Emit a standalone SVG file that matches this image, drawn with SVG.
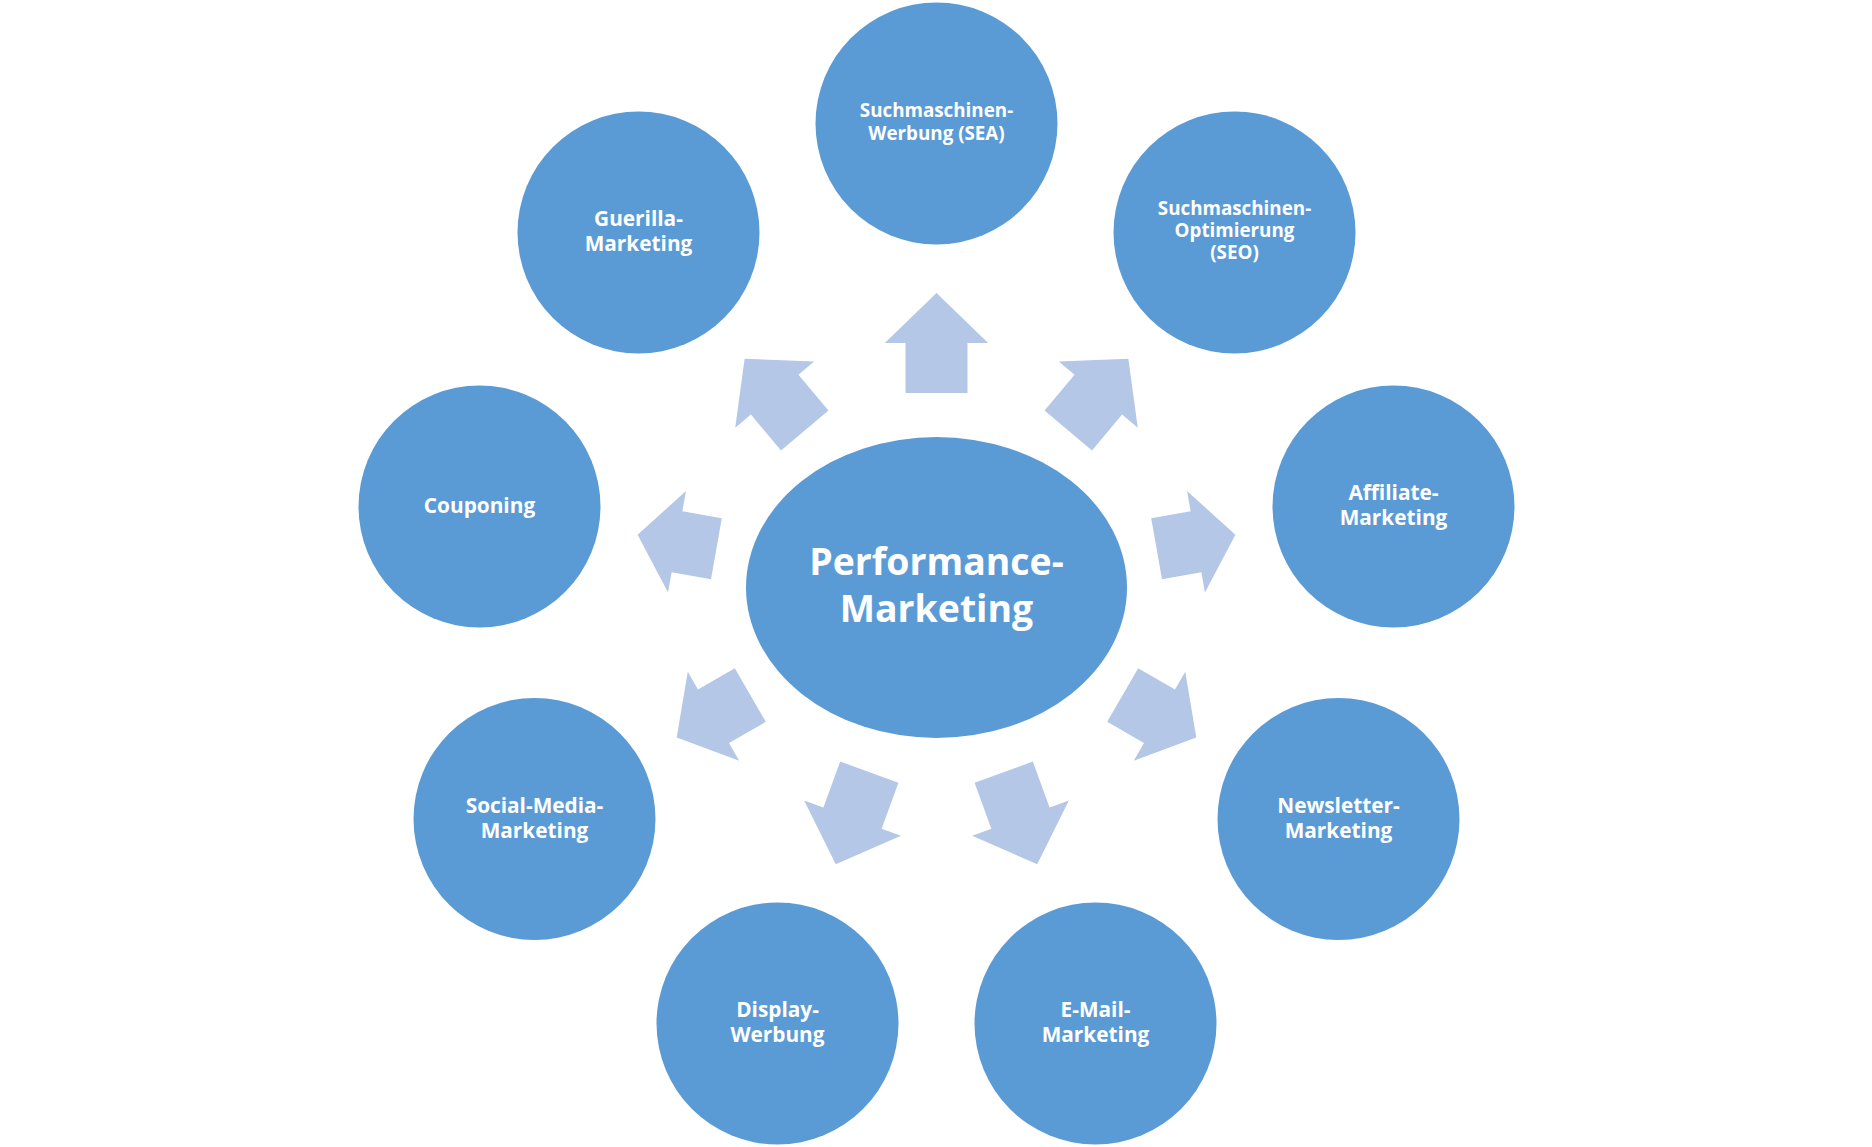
<svg xmlns="http://www.w3.org/2000/svg" width="1872" height="1147" viewBox="0 0 1872 1147">
<style>
.node{fill:#5B9BD5}
.arr{fill:#B4C7E7}
.lbl{font-family:"Open Sans","Noto Sans","Liberation Sans",sans-serif;font-weight:bold;fill:#FFFFFF;text-anchor:middle;font-size:20.8px}
.sm{font-size:18.8px}
.big{font-size:37.4px}
</style>
<rect width="1872" height="1147" fill="#FFFFFF"/>
<g id="connectors">
<path class="arr" transform="translate(936.5 587.5) rotate(0)" d="M-31,-194.5 L-31,-244.5 L-51.7,-244.5 L0,-294.5 L51.7,-244.5 L31,-244.5 L31,-194.5 Z"/>
<path class="arr" transform="translate(936.5 587.5) rotate(40)" d="M-31,-205 L-31,-251.75 L-51.5,-251.75 L0,-298.5 L51.5,-251.75 L31,-251.75 L31,-205 Z"/>
<path class="arr" transform="translate(936.5 587.5) rotate(80)" d="M-31,-223.5 L-31,-263.5 L-51.5,-263.5 L0,-303.5 L51.5,-263.5 L31,-263.5 L31,-223.5 Z"/>
<path class="arr" transform="translate(936.5 587.5) rotate(120)" d="M-31,-215 L-31,-257.5 L-51.5,-257.5 L0,-300 L51.5,-257.5 L31,-257.5 L31,-215 Z"/>
<path class="arr" transform="translate(936.5 587.5) rotate(160)" d="M-31,-196.5 L-31,-245.5 L-51.5,-245.5 L0,-294.5 L51.5,-245.5 L31,-245.5 L31,-196.5 Z"/>
<path class="arr" transform="translate(936.5 587.5) rotate(-160)" d="M-31,-196.5 L-31,-245.5 L-51.5,-245.5 L0,-294.5 L51.5,-245.5 L31,-245.5 L31,-196.5 Z"/>
<path class="arr" transform="translate(936.5 587.5) rotate(-120)" d="M-31,-215 L-31,-257.5 L-51.5,-257.5 L0,-300 L51.5,-257.5 L31,-257.5 L31,-215 Z"/>
<path class="arr" transform="translate(936.5 587.5) rotate(-80)" d="M-31,-223.5 L-31,-263.5 L-51.5,-263.5 L0,-303.5 L51.5,-263.5 L31,-263.5 L31,-223.5 Z"/>
<path class="arr" transform="translate(936.5 587.5) rotate(-40)" d="M-31,-205 L-31,-251.75 L-51.5,-251.75 L0,-298.5 L51.5,-251.75 L31,-251.75 L31,-205 Z"/>
</g>
<g id="center">
<ellipse class="node" cx="936.5" cy="587.5" rx="190.5" ry="150.5"/>
<text class="lbl big" x="936.5" y="575.3">Performance-</text>
<text class="lbl big" x="936.5" y="621.7">Marketing</text>
</g>
<g id="sea">
<circle class="node" cx="936.5" cy="123.5" r="121"/>
<text class="lbl sm" x="936.5" y="117.3">Suchmaschinen-</text>
<text class="lbl sm" x="936.5" y="140">Werbung (SEA)</text>
</g>
<g id="seo">
<circle class="node" cx="1234.5" cy="232.5" r="121"/>
<text class="lbl sm" x="1234.5" y="214.5">Suchmaschinen-</text>
<text class="lbl sm" x="1234.5" y="236.7">Optimierung</text>
<text class="lbl sm" x="1234.5" y="258.5">(SEO)</text>
</g>
<g id="affiliate">
<circle class="node" cx="1393.5" cy="506.5" r="121"/>
<text class="lbl" x="1393.5" y="500">Affiliate-</text>
<text class="lbl" x="1393.5" y="525">Marketing</text>
</g>
<g id="newsletter">
<circle class="node" cx="1338.5" cy="819" r="121"/>
<text class="lbl" x="1338.5" y="812.7">Newsletter-</text>
<text class="lbl" x="1338.5" y="837.7">Marketing</text>
</g>
<g id="email">
<circle class="node" cx="1095.5" cy="1023.5" r="121"/>
<text class="lbl" x="1095.5" y="1017">E-Mail-</text>
<text class="lbl" x="1095.5" y="1042">Marketing</text>
</g>
<g id="display">
<circle class="node" cx="777.5" cy="1023.5" r="121"/>
<text class="lbl" x="777.5" y="1017">Display-</text>
<text class="lbl" x="777.5" y="1042">Werbung</text>
</g>
<g id="social">
<circle class="node" cx="534.5" cy="819" r="121"/>
<text class="lbl" x="534.5" y="812.7">Social-Media-</text>
<text class="lbl" x="534.5" y="837.7">Marketing</text>
</g>
<g id="couponing">
<circle class="node" cx="479.5" cy="506.5" r="121"/>
<text class="lbl" x="479.5" y="512.7">Couponing</text>
</g>
<g id="guerilla">
<circle class="node" cx="638.5" cy="232.5" r="121"/>
<text class="lbl" x="638.5" y="225.7">Guerilla-</text>
<text class="lbl" x="638.5" y="250.7">Marketing</text>
</g>
</svg>
